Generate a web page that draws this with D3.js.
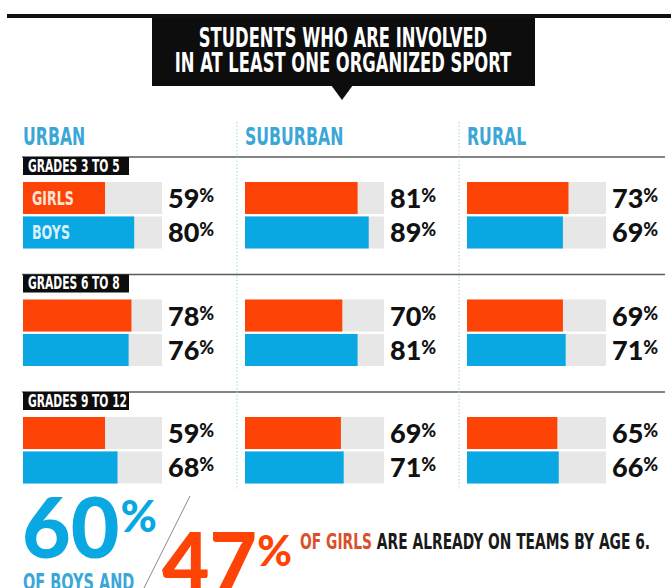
<!DOCTYPE html>
<html>
<head>
<meta charset="utf-8">
<script src="https://cdn.jsdelivr.net/npm/d3@7"></script>
<style>
  html, body { margin: 0; padding: 0; background: #fff; }
  svg { display: block; }
</style>
</head>
<body>
<svg id="chart" width="671" height="588"></svg>
<script>
// ---- data ----
const titleLines = ["STUDENTS WHO ARE INVOLVED", "IN AT LEAST ONE ORGANIZED SPORT"];
const columns = ["URBAN", "SUBURBAN", "RURAL"];
const grades = ["GRADES 3 TO 5", "GRADES 6 TO 8", "GRADES 9 TO 12"];
const series = ["GIRLS", "BOYS"];
// values[column][grade]
const girlsValues = [[59, 78, 59], [81, 70, 69], [73, 69, 65]];
const boysValues  = [[80, 76, 68], [89, 81, 71], [69, 71, 66]];
const boysTeamsPct = 60;
const girlsTeamsPct = 47;
const footnoteBoys = "OF BOYS AND";
const footnoteGirlsLead = "OF GIRLS";
const footnoteRest = " ARE ALREADY ON TEAMS BY AGE 6.";

// ---- styles ----
const ORANGE = "#fd4406";
const BLUE = "#0aa8e2";
const HEAD_BLUE = "#3aa7d6";
const TRACK = "#e7e7e7";
const COND = "'Liberation Sans Narrow', 'DejaVu Sans Condensed', 'Arial Narrow', sans-serif";
const ROUND = "Lato, 'Open Sans', sans-serif";
const squeeze = 0.70;

const svg = d3.select("#chart");

// ---- scales ----
const xCol = d3.scalePoint().domain(columns).range([23, 467]);
const xVal = d3.scaleLinear().domain([0, 100]).range([0, 139]);
const yGrade = d3.scalePoint().domain(grades).range([157, 392]);
const ySeries = d3.scaleBand().domain(series).range([25, 91.5]).paddingInner(0.07);
const color = d3.scaleOrdinal().domain(series).range([ORANGE, BLUE]);

function condText(g, x, y, txt, size, fill, anchor) {
  return g.append("text")
    .attr("transform", `translate(${x},${y}) scale(${squeeze},1)`)
    .attr("text-anchor", anchor || "start")
    .attr("font-family", COND)
    .attr("font-weight", "bold")
    .attr("font-size", size)
    .attr("fill", fill)
    .text(txt);
}

// ---- top rule + title ----
svg.append("rect").attr("x", 7).attr("y", 14).attr("width", 664).attr("height", 4).attr("fill", "#111");
svg.append("rect").attr("x", 152).attr("y", 18).attr("width", 383).attr("height", 68).attr("fill", "#0d0d0d");
svg.append("path").attr("d", "M331,85 L353,85 L342,100 Z").attr("fill", "#0d0d0d");
titleLines.forEach((t, i) => condText(svg, 343, 47 + i * 25, t, 26, "#fff", "middle"));

// ---- column headers ----
columns.forEach(c => condText(svg, xCol(c), 145, c, 25, HEAD_BLUE));

// ---- horizontal group rules ----
grades.forEach(g => {
  svg.append("line")
    .attr("x1", 22).attr("x2", 665)
    .attr("y1", yGrade(g)).attr("y2", yGrade(g))
    .attr("stroke", "#5a5a5a").attr("stroke-width", 1.6);
});

// ---- vertical dotted dividers ----
columns.slice(1).forEach(c => {
  svg.append("line")
    .attr("x1", xCol(c) - 8).attr("x2", xCol(c) - 8)
    .attr("y1", 122).attr("y2", 490)
    .attr("stroke", "#9fd3ea").attr("stroke-width", 1)
    .attr("stroke-dasharray", "1.5,2");
});

// ---- grade label boxes (urban column only) ----
grades.forEach(g => {
  const gg = svg.append("g");
  gg.append("rect").attr("x", xCol(columns[0])).attr("y", yGrade(g))
    .attr("width", 106).attr("height", 18).attr("fill", "#0d0d0d");
  condText(gg, xCol(columns[0]) + 5, yGrade(g) + 14.5, g, 17, "#fff");
});

// ---- bars ----
columns.forEach((c, ci) => {
  grades.forEach((g, gi) => {
    const vals = { GIRLS: girlsValues[ci][gi], BOYS: boysValues[ci][gi] };
    series.forEach(s => {
      const y = yGrade(g) + ySeries(s);
      const h = ySeries.bandwidth();
      svg.append("rect").attr("x", xCol(c)).attr("y", y)
        .attr("width", xVal(100)).attr("height", h).attr("fill", TRACK);
      svg.append("rect").attr("x", xCol(c)).attr("y", y)
        .attr("width", xVal(vals[s])).attr("height", h).attr("fill", color(s));
      if (ci === 0 && gi === 0) {
        condText(svg, xCol(c) + 9, y + h / 2 + 7, s, 20, s === "GIRLS" ? "#fde3d8" : "#d8f0fb");
      }
      const t = svg.append("text")
        .attr("x", xCol(c) + xVal(100) + 6)
        .attr("y", y + h / 2 + 10)
        .attr("font-family", ROUND)
        .attr("font-weight", 900)
        .attr("font-size", 27)
        .attr("fill", "#111");
      t.append("tspan").text(vals[s]);
      t.append("tspan").attr("font-size", 18).attr("dy", -6).text("%");
    });
  });
});

// ---- footer ----
const big60 = svg.append("text").attr("x", 22).attr("y", 558)
  .attr("font-family", ROUND).attr("font-weight", 900).attr("font-size", 84).attr("fill", BLUE);
big60.append("tspan").text(boysTeamsPct);
big60.append("tspan").attr("font-size", 44).attr("dy", -26).attr("dx", 1).text("%");
condText(svg, 23, 590, footnoteBoys, 23, HEAD_BLUE);

svg.append("line").attr("x1", 190).attr("y1", 496).attr("x2", 143).attr("y2", 590)
  .attr("stroke", "#8a8a8a").attr("stroke-width", 1);

const big47 = svg.append("text").attr("x", 162).attr("y", 592)
  .attr("font-family", ROUND).attr("font-weight", 900).attr("font-size", 82).attr("fill", ORANGE);
big47.append("tspan").text(girlsTeamsPct);
big47.append("tspan").attr("font-size", 42).attr("dy", -26).attr("dx", 0).text("%");

const foot = svg.append("text")
  .attr("transform", `translate(300,549) scale(${squeeze},1)`)
  .attr("font-family", COND).attr("font-weight", "bold").attr("font-size", 22);
foot.append("tspan").attr("fill", "#d9512a").text(footnoteGirlsLead);
foot.append("tspan").attr("fill", "#1a1a1a").text(footnoteRest);
</script>
</body>
</html>
